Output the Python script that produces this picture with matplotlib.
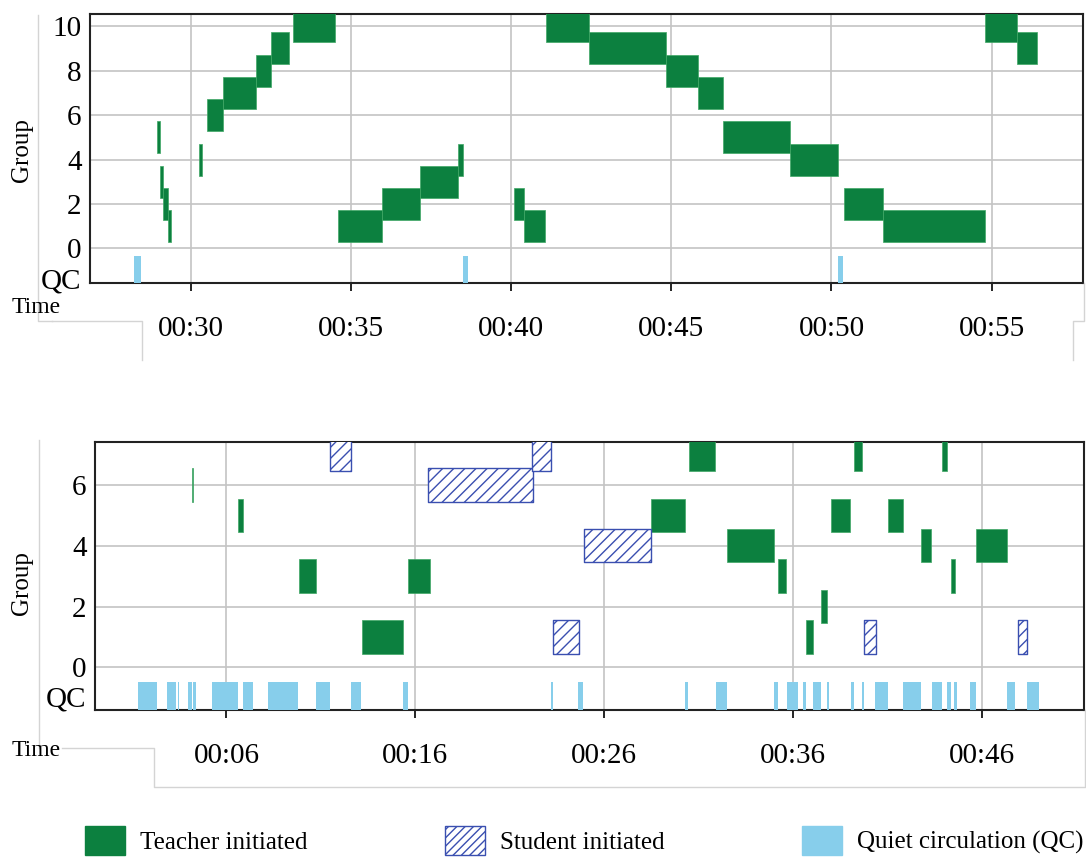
import matplotlib.pyplot as plt
from matplotlib.patches import Patch
from matplotlib.lines import Line2D
from matplotlib.ticker import FuncFormatter

plt.rcParams['font.family'] = ['Liberation Serif', 'DejaVu Serif']
plt.rcParams['hatch.color'] = '#3a4fb0'
plt.rcParams['hatch.linewidth'] = 1.0

GREEN = '#0c803f'
BLUE = '#3a4fb0'
SKY = '#87ceeb'

# ---- top lesson (minutes) ----
top_teacher_group = [5, 3, 2, 1, 4, 6, 7, 8, 9, 10, 1, 2, 3, 4, 2, 1, 10, 9, 8, 7, 5, 4, 2, 1, 10, 9]
top_teacher_start = [28.96, 29.05, 29.15, 29.30, 30.27, 30.50, 31.00, 32.03, 32.50, 33.20, 34.61, 35.98, 37.15,
                     38.35, 40.08, 40.42, 41.08, 42.43, 44.85, 45.84, 46.60, 48.71, 50.38, 51.61, 54.78, 55.79]
top_teacher_end = [29.04, 29.15, 29.30, 29.38, 30.35, 31.00, 32.03, 32.50, 33.07, 34.50, 35.98, 37.15, 38.35,
                   38.49, 40.42, 41.07, 42.43, 44.85, 45.84, 46.60, 48.71, 50.20, 51.61, 54.78, 55.79, 56.41]
top_qc_start = [28.24, 38.49, 50.20]
top_qc_end = [28.45, 38.67, 50.37]
top_ticks = [30, 35, 40, 45, 50, 55]

# ---- bottom lesson (minutes) ----
bot_teacher_group = [6, 5, 3, 1, 3, 5, 7, 4, 3, 1, 2, 5, 7, 5, 4, 7, 3, 4]
bot_teacher_start = [4.17, 6.62, 9.85, 13.16, 15.60, 28.49, 30.48, 32.51, 35.21, 36.67, 37.48, 37.99, 39.21,
                     40.99, 42.76, 43.88, 44.33, 45.67]
bot_teacher_end = [4.22, 6.88, 10.73, 15.37, 16.76, 30.28, 31.86, 34.96, 35.61, 37.06, 37.78, 39.02, 39.63,
                   41.79, 43.30, 44.11, 44.56, 47.32]
bot_student_group = [7, 6, 7, 1, 4, 1, 1]
bot_student_start = [11.49, 16.66, 22.17, 23.29, 24.93, 39.73, 47.87]
bot_student_end = [12.60, 22.23, 23.20, 24.65, 28.49, 40.38, 48.37]
bot_qc_start = [1.35, 2.88, 3.43, 3.99, 4.22, 5.23, 6.88, 8.19, 10.73, 12.60, 15.37, 23.18, 24.62, 30.27,
                31.89, 34.99, 35.65, 36.53, 37.06, 37.78, 39.04, 39.63, 40.31, 41.79, 43.32, 44.13, 44.50,
                45.35, 47.32, 48.37]
bot_qc_end = [2.32, 3.32, 3.50, 4.17, 4.38, 6.62, 7.43, 9.81, 11.49, 13.13, 15.60, 23.27, 24.89, 30.44,
              32.48, 35.19, 36.25, 36.67, 37.47, 37.89, 39.21, 39.76, 40.99, 42.76, 43.88, 44.33, 44.66,
              45.67, 47.75, 49.00]
bot_ticks = [6, 16, 26, 36, 46]


def spans(start, end):
    return [(s, e - s) for s, e in zip(start, end)]


def draw_panel(ax, groups, start, end, h, qc_start, qc_end, qc_top, ylim, xlim, ticks, yticks, qc_y,
               s_groups=None, s_start=None, s_end=None):
    for g, s, e in zip(groups, start, end):
        ax.broken_barh([(s, e - s)], (g - h / 2, h), facecolor=GREEN, edgecolor='#3fa865', linewidth=0.5, zorder=3)
    if s_groups:
        for g, s, e in zip(s_groups, s_start, s_end):
            ax.broken_barh([(s, e - s)], (g - h / 2, h), facecolor='white', edgecolor=BLUE,
                           hatch='///', linewidth=1.0, zorder=3)
    ax.broken_barh(spans(qc_start, qc_end), (ylim[0], qc_top - ylim[0]), facecolor=SKY,
                   edgecolor='none', zorder=3)
    ax.set_xlim(*xlim)
    ax.set_ylim(*ylim)
    ax.set_xticks(ticks)
    ax.xaxis.set_major_formatter(FuncFormatter(lambda v, p: '00:%02d' % v))
    ax.set_yticks(yticks)
    ax.set_yticks([qc_y], ['QC'], minor=True)
    ax.grid(True, which='major', color='#c4c4c4', linewidth=1.2, zorder=0)
    ax.tick_params(axis='x', length=6, width=1.2, pad=18, labelsize=21)
    ax.tick_params(axis='y', which='both', length=0, pad=6, labelsize=21)
    for sp in ax.spines.values():
        sp.set_linewidth(1.5)
        sp.set_color('#222222')
    ax.set_axisbelow(True)


fig = plt.figure(figsize=(10.86, 8.6), dpi=100)

ax1 = fig.add_axes([0.0829, 0.6709, 0.9143, 0.3128])
draw_panel(ax1, top_teacher_group, top_teacher_start, top_teacher_end, 1.44, top_qc_start, top_qc_end, -0.35,
           (-1.56, 10.55), (26.86, 57.85), top_ticks, [0, 2, 4, 6, 8, 10], -1.34)

ax2 = fig.add_axes([0.0875, 0.1744, 0.9107, 0.3120])
draw_panel(ax2, bot_teacher_group, bot_teacher_start, bot_teacher_end, 1.1, bot_qc_start, bot_qc_end, -0.47,
           (-1.40, 7.42), (-0.95, 51.38), bot_ticks, [0, 2, 4, 6], -0.97,
           bot_student_group, bot_student_start, bot_student_end)

W, H = 1086, 860


def ftxt(x, y, s, **kw):
    fig.text(x / W, 1 - y / H, s, **kw)


ftxt(22, 150, 'Group', rotation=90, ha='center', va='center', fontsize=18)
ftxt(22, 583, 'Group', rotation=90, ha='center', va='center', fontsize=18)
ftxt(12, 308, 'Time', ha='left', va='center', fontsize=17)
ftxt(12, 750, 'Time', ha='left', va='center', fontsize=17)

# faint frame lines around the panels
frames = [
    [(38, 15), (38, 321), (52, 321)], [(52, 321), (142, 321), (142, 360)],
    [(1084, 283), (1084, 321), (1073, 321), (1073, 360)],
    [(39, 440), (39, 748)], [(62, 748), (154, 748), (154, 787), (1085, 787), (1085, 710)],
]
for pts in frames:
    xs = [p[0] / W for p in pts]
    ys = [1 - p[1] / H for p in pts]
    fig.add_artist(Line2D(xs, ys, color='#d4d4d4', linewidth=1.0))

handles = [Patch(facecolor=GREEN, edgecolor=GREEN),
           Patch(facecolor='white', edgecolor=BLUE, hatch='////'),
           Patch(facecolor=SKY, edgecolor=SKY)]
labels = ['Teacher initiated', 'Student initiated', 'Quiet circulation (QC)']
fig.legend(handles, labels, loc='lower left', bbox_to_anchor=(90 / W - 0.005, 0.006), ncol=3, frameon=False,
           fontsize=18, handlelength=1.6, handleheight=1.4, handletextpad=0.6, columnspacing=5.5,
           borderaxespad=0, borderpad=0)

fig.savefig('out.png', dpi=100)
